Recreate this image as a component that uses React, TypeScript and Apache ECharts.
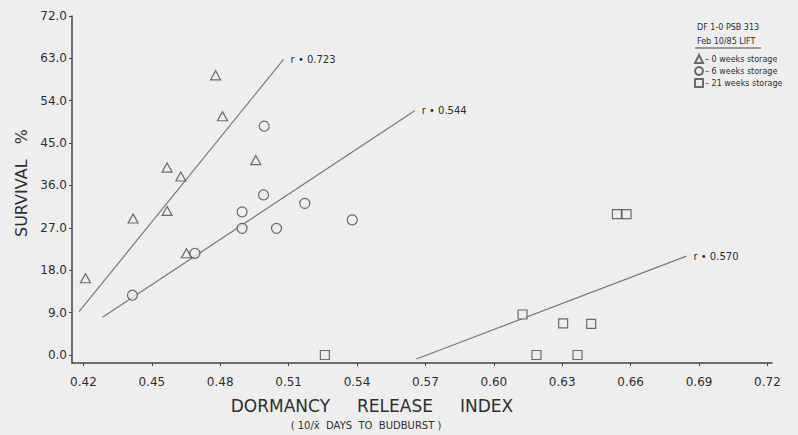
import React, { useEffect, useRef } from "react";
import * as echarts from "echarts";

const xTicks = [0.42, 0.45, 0.48, 0.51, 0.54, 0.57, 0.6, 0.63, 0.66, 0.69, 0.72];
const yTicks = [0, 9, 18, 27, 36, 45, 54, 63, 72];

const week0X = [0.4209, 0.4418, 0.4567, 0.4567, 0.4627, 0.4652, 0.478, 0.481, 0.4956];
const week0Y = [16.3, 29.0, 30.6, 39.8, 37.9, 21.6, 59.4, 50.7, 41.4];

const week6X = [0.4415, 0.4689, 0.4896, 0.4896, 0.499, 0.4993, 0.5047, 0.5171, 0.5379];
const week6Y = [12.7, 21.6, 30.4, 26.9, 34.0, 48.6, 26.9, 32.2, 28.7];

const week21X = [0.5259, 0.6126, 0.6187, 0.6304, 0.6367, 0.6427, 0.654, 0.6582];
const week21Y = [0, 8.6, 0, 6.7, 0, 6.6, 29.9, 29.9];

const fit0X = [0.4181, 0.5078];
const fit0Y = [9.2, 62.8];
const fit6X = [0.4284, 0.5653];
const fit6Y = [8.0, 51.9];
const fit21X = [0.566, 0.6845];
const fit21Y = [-0.85, 21.0];

const seriesNames = ["0 weeks storage", "6 weeks storage", "21 weeks storage"];
const fitLabels = ["r • 0.723", "r • 0.544", "r • 0.570"];

const BG = "#efeeef";
const INK = "#2e2e2e";
const FONT = "DejaVu Sans, sans-serif";

const zip = (xs: number[], ys: number[]) => xs.map((x, i) => [x, ys[i]]);

export default function App() {
  const ref = useRef<HTMLDivElement>(null);
  useEffect(() => {
    const chart = echarts.init(ref.current!, null, { renderer: "svg" });
    const markerStyle = { color: BG, borderColor: "#4a4a4a", borderWidth: 1.2 };
    const scatter = (name: string, xs: number[], ys: number[], symbol: string, size: number | number[]) => ({
      type: "scatter",
      name,
      data: zip(xs, ys),
      symbol,
      symbolSize: size,
      itemStyle: markerStyle,
      z: 3,
    });
    const fit = (xs: number[], ys: number[], label: string) => ({
      type: "line",
      data: zip(xs, ys),
      symbol: "none",
      silent: true,
      lineStyle: { color: "#777", width: 1.2 },
      endLabel: { show: true, formatter: label, color: INK, fontSize: 10, fontFamily: FONT, distance: 7 },
      z: 2,
    });
    chart.setOption({
      animation: false,
      backgroundColor: BG,
      textStyle: { fontFamily: FONT },
      grid: { left: 72, right: 26, top: 16, bottom: 72 },
      xAxis: {
        type: "value",
        min: 0.415,
        max: 0.722,
        axisLine: { show: true, onZero: false, lineStyle: { color: "#444", width: 1.5 } },
        axisTick: { show: true, customValues: xTicks, length: 3, lineStyle: { color: "#444" } },
        axisLabel: {
          customValues: xTicks,
          formatter: (v: number) => v.toFixed(2),
          margin: 13,
          color: INK,
          fontSize: 12,
          fontFamily: FONT,
        },
        splitLine: { show: false },
      },
      yAxis: {
        type: "value",
        min: -1.7,
        max: 72,
        axisLine: { show: true, onZero: false, lineStyle: { color: "#444", width: 1.5 } },
        axisTick: { show: true, customValues: yTicks, length: 3, lineStyle: { color: "#444" } },
        axisLabel: {
          customValues: yTicks,
          formatter: (v: number) => v.toFixed(1),
          margin: 5,
          color: INK,
          fontSize: 12,
          fontFamily: FONT,
        },
        splitLine: { show: false },
      },
      legend: {
        data: seriesNames,
        orient: "vertical",
        left: 694,
        top: 54,
        padding: 0,
        itemWidth: 8,
        itemHeight: 8,
        itemGap: 2,
        formatter: "– {name}",
        textStyle: { fontSize: 8, lineHeight: 9, color: INK, fontFamily: FONT, padding: [0, 0, 0, -3] },
      },
      graphic: [
        { type: "text", left: 697, top: 23, style: { text: "DF 1-0 PSB 313", fontSize: 8, fill: INK, fontFamily: FONT } },
        { type: "text", left: 697, top: 37, style: { text: "Feb 10/85 LIFT", fontSize: 8, fill: INK, fontFamily: FONT } },
        { type: "line", shape: { x1: 695, y1: 48, x2: 761, y2: 48 }, style: { stroke: "#444", lineWidth: 1 } },
        {
          type: "text",
          x: 21,
          y: 183,
          rotation: Math.PI / 2,
          style: { text: "SURVIVAL   %", fontSize: 16, fill: INK, fontFamily: FONT, align: "center", verticalAlign: "middle" },
        },
        {
          type: "text",
          x: 372,
          y: 406,
          style: { text: "DORMANCY     RELEASE     INDEX", fontSize: 17, fill: INK, fontFamily: FONT, align: "center", verticalAlign: "middle" },
        },
        {
          type: "text",
          x: 366,
          y: 425,
          style: { text: "( 10/x̄  DAYS  TO  BUDBURST )", fontSize: 10, fill: INK, fontFamily: FONT, align: "center", verticalAlign: "middle" },
        },
      ],
      series: [
        fit(fit0X, fit0Y, fitLabels[0]),
        fit(fit6X, fit6Y, fitLabels[1]),
        fit(fit21X, fit21Y, fitLabels[2]),
        scatter(seriesNames[0], week0X, week0Y, "triangle", [10, 9]),
        scatter(seriesNames[1], week6X, week6Y, "circle", 10),
        scatter(seriesNames[2], week21X, week21Y, "rect", 9),
      ],
    });
    return () => chart.dispose();
  }, []);
  return (
    <div
      ref={ref}
      style={{ position: "fixed", left: 0, top: 0, width: 798, height: 435, background: BG }}
    />
  );
}
